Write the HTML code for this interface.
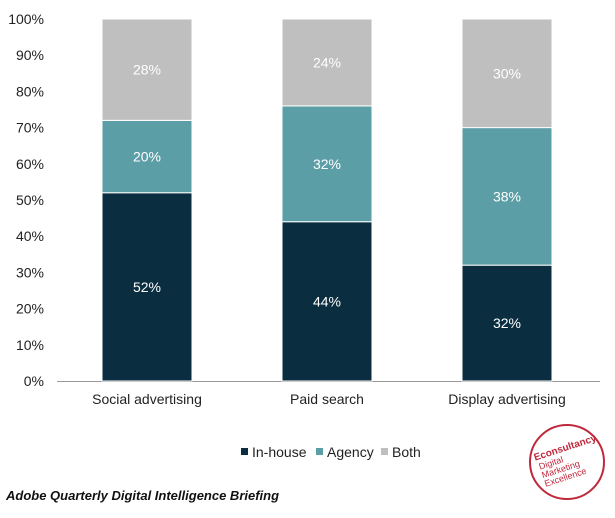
<!DOCTYPE html>
<html><head><meta charset="utf-8"><style>
body{margin:0;background:#fff;width:615px;height:513px;overflow:hidden;font-family:"Liberation Sans",sans-serif}
</style></head><body>
<svg width="615" height="513" xmlns="http://www.w3.org/2000/svg">
<g id="axis"></g>
<g id="bars"></g>
<g id="legend" font-size="14" fill="#222">
  <rect x="241" y="448" width="7" height="7" fill="#0b2d40"/><text x="252" y="457">In-house</text>
  <rect x="316" y="448" width="7" height="7" fill="#5b9ea6"/><text x="327" y="457">Agency</text>
  <rect x="381" y="448" width="7" height="7" fill="#bfbfbf"/><text x="392" y="457">Both</text>
</g>
<g>
  <circle cx="567" cy="462" r="37" fill="#fff" stroke="#c0283c" stroke-width="2"/>
  <g transform="rotate(-18 567 462)" fill="#c0283c" font-size="9">
    <text x="537" y="451" font-weight="bold" font-size="10">Econsultancy</text>
    <text x="539" y="461">Digital</text>
    <text x="539" y="470">Marketing</text>
    <text x="539" y="479">Excellence</text>
  </g>
</g>
<text x="6" y="500" font-size="13" font-weight="bold" font-style="italic" fill="#111">Adobe Quarterly Digital Intelligence Briefing</text>
</svg>
<script>
const categories=["Social advertising","Paid search","Display advertising"];
const inHouse=[52,44,32];
const agency=[20,32,38];
const both=[28,24,30];
const ticks=[0,10,20,30,40,50,60,70,80,90,100];
const NS="http://www.w3.org/2000/svg";
const y=v=>381-v*3.62;
const xc=i=>147+i*180;
const bw=90;
function mk(t,a,p){const e=document.createElementNS(NS,t);for(const k in a)e.setAttribute(k,a[k]);p.appendChild(e);return e;}
const ax=document.getElementById('axis');
ticks.forEach(t=>{const e=mk('text',{x:44,y:y(t)+5,'text-anchor':'end','font-size':14,fill:'#222'},ax);e.textContent=t+'%';

});
const ln=mk('line',{x1:57,x2:600,y1:381.5,y2:381.5,stroke:'#999','stroke-width':1},ax);


const bg=document.getElementById('bars');
const series=[[inHouse,'#0b2d40','in-house'],[agency,'#5b9ea6','agency'],[both,'#bfbfbf','both']];
categories.forEach((c,i)=>{
  let base=0;
  series.forEach(([arr,col,nm])=>{
    const v=arr[i];
    const r=mk('rect',{x:xc(i)-bw/2,y:y(base+v),width:bw,height:y(base)-y(base+v),fill:col,stroke:'#fff','stroke-width':1},bg);
    
    
    const t=mk('text',{x:xc(i),y:(y(base)+y(base+v))/2+5,'text-anchor':'middle','font-size':14,fill:'#fff'},bg);
    t.textContent=v+'%';
    
    
    base+=v;
  });
  const l=mk('text',{x:xc(i),y:404,'text-anchor':'middle','font-size':14,fill:'#222'},bg);
  l.textContent=c;
  
  
});
</script>
</body></html>
